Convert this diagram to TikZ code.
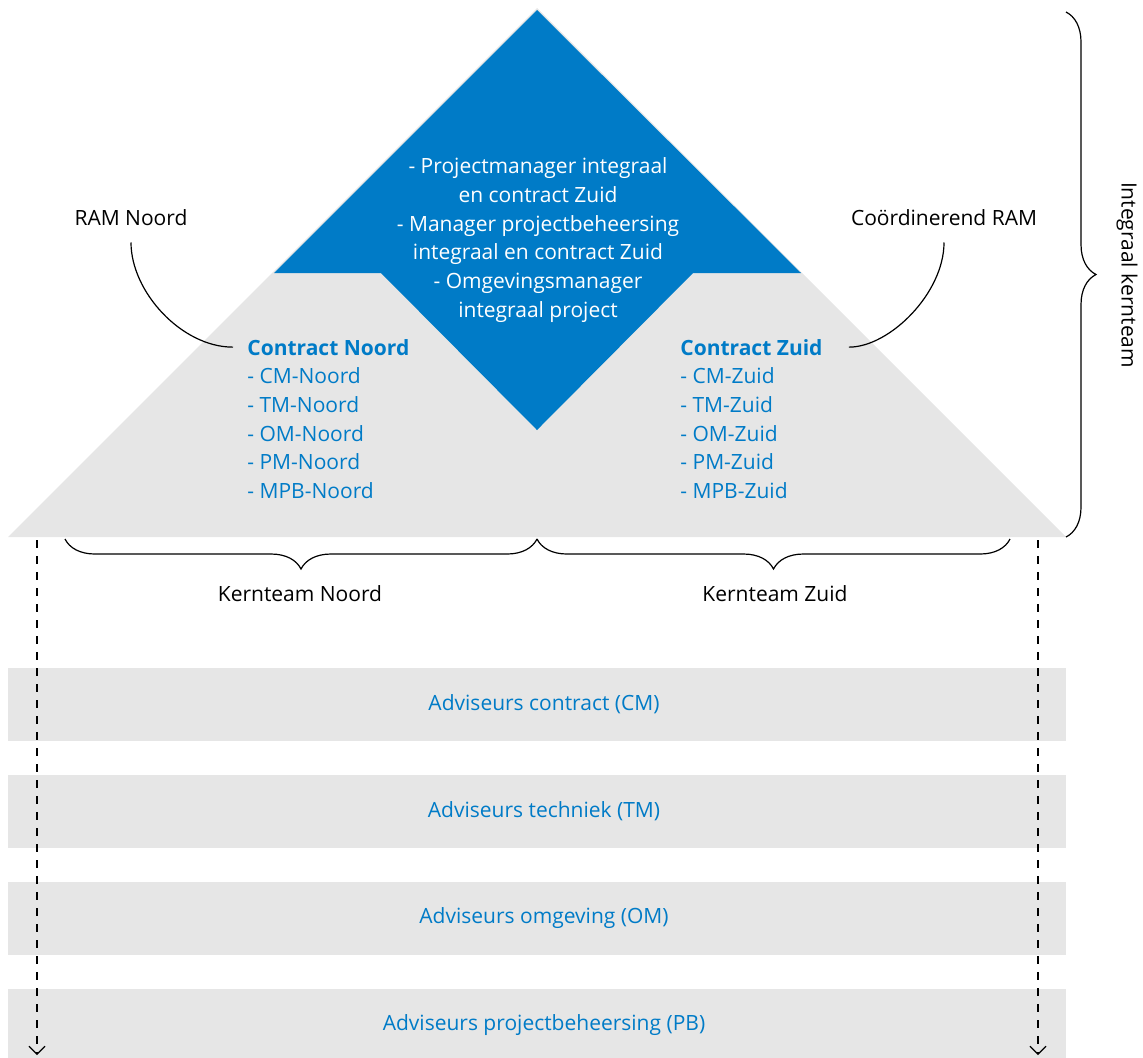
\documentclass[tikz,border=0pt]{standalone}
\usepackage{fontspec}
\setmainfont{Open Sans}
\usetikzlibrary{arrows.meta,decorations.pathreplacing}
\definecolor{rijksblauw}{HTML}{007BC7}
\definecolor{vlakgrijs}{HTML}{E6E6E6}

\begin{document}
\begin{tikzpicture}[x=0.5pt,y=-0.5pt,
% Text styles
    every node/.style={font=\fontsize{10.5}{14.35}\selectfont,inner sep=0pt},
    blauw/.style={text=rijksblauw},
    kop/.style={text=rijksblauw,font=\fontsize{10.5}{14.35}\selectfont\bfseries},
% Bar style
    balk/.style={fill=vlakgrijs,minimum width=529pt,minimum height=36.5pt},
% Connector styles
    boog/.style={line width=0.6pt,draw=black},
    accolade/.style={line width=0.6pt,draw=black,decorate,
		decoration={brace,amplitude=15pt}},
    pijl/.style={line width=0.6pt,dash pattern=on 4pt off 4pt,
		-{Straight Barb[length=4pt,width=8pt]}}
    ]
\useasboundingbox (0,0) rectangle (1143,1057);
%% Triangle and diamond
\fill[vlakgrijs] (8,537) -- (537,8) -- (1066,537) -- cycle;
\fill[rijksblauw] (537,10) -- (274,273) -- (381,273) -- (537,430)
	-- (693,273) -- (801,273) -- cycle;
\node[text=white,align=center] (integraal) at (538,240)
	{- Projectmanager integraal\\en contract Zuid\\
	 - Manager projectbeheersing\\integraal en contract Zuid\\
	 - Omgevingsmanager\\integraal project};

%% Contract teams
\node[kop,anchor=base west] (noordkop) at (247,355) {Contract Noord};
\node[kop,anchor=base west] (zuidkop) at (680,355) {Contract Zuid};
\foreach \r [count=\i] in {CM,TM,OM,PM,MPB}{
	\node[blauw,anchor=base west] (noord\i) at (247,355+28.7*\i) {- \r-Noord};
	\node[blauw,anchor=base west] (zuid\i) at (680,355+28.7*\i) {- \r-Zuid};
}

%% RAM labels
\node (ramnoord) at (131,218) {RAM Noord};
\node (ramzuid) at (944,218) {Coördinerend RAM};
\draw[boog,shorten <=8pt,shorten >=7pt] (ramnoord.south)
	to[out=-90,in=180] (noordkop.west);
\draw[boog,shorten <=8pt,shorten >=13pt] (ramzuid.south)
	to[out=-90,in=0] (zuidkop.east);

%% Braces
\coordinate (kt1) at (1066,12);
\coordinate (kt2) at (1066,537);
\coordinate (kn1) at (65,539);
\coordinate (kn2) at (537,539);
\coordinate (kz1) at (537,539);
\coordinate (kz2) at (1010,539);
\draw[accolade] (kt1) -- (kt2);
\draw[accolade] (kn2) -- (kn1);
\draw[accolade] (kz2) -- (kz1);
\node[rotate=-90] (kernteam) at (1127,275) {Integraal kernteam};
\node (kernnoord) at (300,594) {Kernteam Noord};
\node (kernzuid) at (775,594) {Kernteam Zuid};

%% Advisers
\foreach \t/\y [count=\i] in {contract (CM)/704,techniek (TM)/811.5,
		omgeving (OM)/918.5,projectbeheersing (PB)/1025}{
	\node[balk] (balk\i) at (537,\y) {};
	\node[blauw] (advies\i) at (544,\y) {Adviseurs \t};
}

%% Dashed arrows
\coordinate (pl1) at (37,540);
\coordinate (pl2) at (37,1055);
\coordinate (pr1) at (1038,540);
\coordinate (pr2) at (1038,1055);
\draw[pijl] (pl1) -- (pl2);
\draw[pijl] (pr1) -- (pr2);
\end{tikzpicture}
\end{document}
